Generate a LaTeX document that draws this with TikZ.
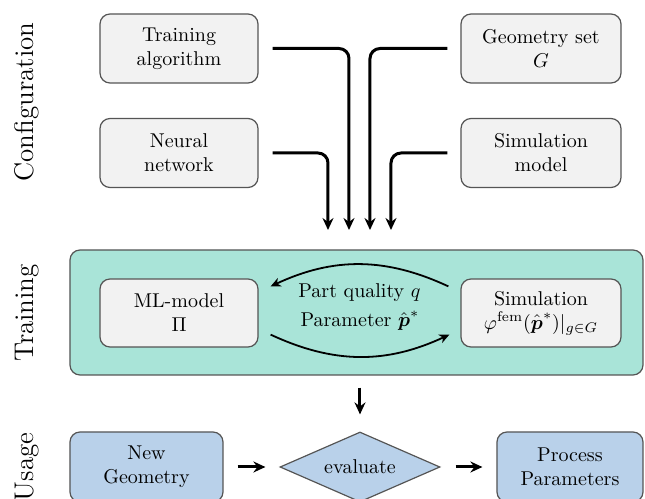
\documentclass[tikz,border=0pt]{standalone}
\usepackage{amsmath}
\usepackage{amssymb}
\usetikzlibrary{arrows.meta,shapes.geometric}

\definecolor{boxgray}{HTML}{F2F2F2}
\definecolor{boxline}{HTML}{555555}
\definecolor{trainteal}{HTML}{A9E4D8}
\definecolor{useblue}{HTML}{B9D1EA}

\tikzset{
  cfgbox/.style={draw=boxline, line width=0.6pt, fill=boxgray, rounded corners=5pt,
    minimum width=79pt, minimum height=34.5pt, align=center, inner sep=2pt},
  usebox/.style={cfgbox, fill=useblue, minimum height=35pt},
  flow/.style={-{Stealth[length=6pt,width=5.5pt,inset=2pt]}, line width=1.5pt, rounded corners=5pt},
  loop/.style={-{Stealth[length=5pt,width=4.5pt,inset=1.5pt]}, line width=0.9pt},
  side/.style={rotate=90, font=\fontsize{13.5}{16}\selectfont}
}

\begin{document}
\begin{tikzpicture}[x=0.5pt, y=0.5pt, every node/.style={font=\normalsize}]
\useasboundingbox (0,0) rectangle (645,499);

% Row labels
\node[side] (lcfg) at (27,397) {Configuration};
\node[side] (ltrain) at (27,186) {Training};
\node[side] (luse) at (27,32) {Usage};

% Configuration inputs
\node[cfgbox] (train) at (179,450.5) {Training\\algorithm};
\node[cfgbox] (nn) at (179,346) {Neural\\network};
\node[cfgbox, minimum width=80pt] (geo) at (541,450.5) {Geometry set\\$G$};
\node[cfgbox, minimum width=80pt] (simmod) at (541,346) {Simulation\\model};

% Merge into training block
\coordinate (in1) at (328,269);
\coordinate (in2) at (349,269);
\coordinate (in3) at (370,269);
\coordinate (in4) at (391,269);
\draw[flow] ([xshift=7pt]nn.east) -| (in1);
\draw[flow] ([xshift=7pt]train.east) -| (in2);
\draw[flow] ([xshift=-6.5pt]geo.west) -| (in3);
\draw[flow] ([xshift=-6.5pt]simmod.west) -| (in4);

% Training block
\node[draw=boxline, line width=0.6pt, fill=trainteal, rounded corners=5pt,
  minimum width=286.5pt, minimum height=62.5pt] (tblock) at (356.5,186.5) {};
\node[cfgbox, minimum height=34pt] (ml) at (179,186) {ML-model\\$\Pi$};
\node[cfgbox, minimum width=80pt, minimum height=34pt] (sim) at (541,186)
  {Simulation\\$\varphi^{\text{fem}}(\hat{\boldsymbol{p}}^*)|_{g\in G}$};
\draw[loop] ([xshift=-6pt,yshift=-4pt]sim.north west) to[bend right=25]
  node[midway, below=8pt, inner sep=1pt] {Part quality $q$} ([xshift=6pt,yshift=-4pt]ml.north east);
\draw[loop] ([xshift=6pt,yshift=6.5pt]ml.south east) to[bend right=25]
  node[midway, above=11.5pt, inner sep=1pt] {Parameter $\hat{\boldsymbol{p}}^*$} ([xshift=-5.5pt,yshift=6.5pt]sim.south west);

% Usage
\node[usebox, minimum width=76.5pt] (ngeo) at (146.5,32) {New\\Geometry};
\node[draw=boxline, line width=0.6pt, fill=useblue, diamond, aspect=2.3, inner sep=1pt,
  minimum width=80pt, minimum height=35pt] (eval) at (360,32) {evaluate};
\node[usebox, minimum width=73pt] (procpar) at (570,32) {Process\\Parameters};

\draw[flow, shorten <=6pt, shorten >=8.5pt] (tblock.south -| eval.north) -- (eval.north);
\draw[flow, shorten <=7pt, shorten >=7pt] (ngeo) -- (eval);
\draw[flow, shorten <=7.5pt, shorten >=7pt] (eval) -- (procpar);
\end{tikzpicture}
\end{document}
